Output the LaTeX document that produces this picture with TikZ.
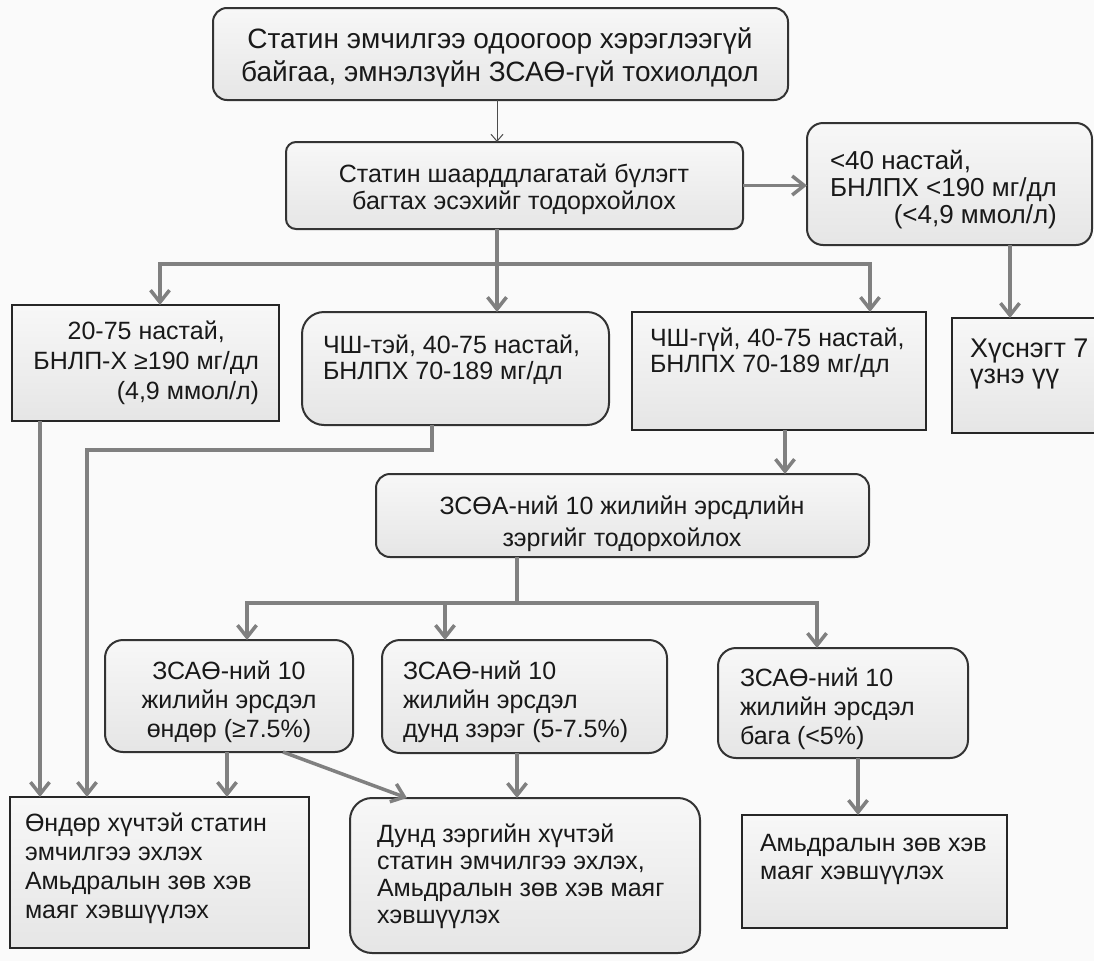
\documentclass[tikz,border=0pt]{standalone}
\usepackage{fontspec}
\setmainfont{Liberation Sans}
\usetikzlibrary{arrows.meta}
\tikzset{
  rbox/.style={draw=black!80, line width=2pt, rounded corners=#1, top color=black!3, bottom color=black!10, inner sep=0pt, outer sep=0pt},
  sbox/.style={draw=black!85, line width=2pt, top color=black!3, bottom color=black!10, inner sep=0pt, outer sep=0pt},
  txt/.style={inner sep=0pt, outer sep=0pt, text=black!90, font=\fontsize{25}{#1}\selectfont},
  conn/.style={draw=black!50, line width=3.5pt},
  arr/.style={conn, -{Straight Barb[length=12pt, width=19pt]}},
  thinarr/.style={draw=black!70, line width=1pt, -{Straight Barb[length=7pt, width=12pt]}},
}
\begin{document}
\begin{tikzpicture}[x=1pt, y=-1pt]
\useasboundingbox (0,0) rectangle (1094,961);
\fill[black!2] (0,0) rectangle (1094,961);

% boxes
\node[rbox=14, minimum width=575pt, minimum height=92pt] (b1) at (500.5,54) {};
\node[rbox=10, minimum width=457pt, minimum height=87pt] (b2) at (514.5,185.5) {};
\node[rbox=16, minimum width=285pt, minimum height=122pt] (b3) at (949.5,184) {};
\node[sbox, minimum width=267pt, minimum height=116pt] (b4) at (145.5,363) {};
\node[rbox=22, minimum width=307pt, minimum height=113pt] (b5) at (455.5,368.5) {};
\node[sbox, minimum width=294pt, minimum height=118pt] (b6) at (779,371) {};
\node[sbox, minimum width=150pt, minimum height=115pt] (b7) at (1027,375.5) {};
\node[rbox=14, minimum width=493pt, minimum height=83pt] (b8) at (622.5,515.5) {};
\node[rbox=18, minimum width=248pt, minimum height=112pt] (b9) at (229,696) {};
\node[rbox=18, minimum width=285pt, minimum height=113pt] (b10) at (524.5,696.5) {};
\node[rbox=18, minimum width=250pt, minimum height=110pt] (b11) at (843,703) {};
\node[sbox, minimum width=299pt, minimum height=151pt] (b12) at (159.5,872.5) {};
\node[rbox=22, minimum width=350pt, minimum height=155pt] (b13) at (525,875.5) {};
\node[sbox, minimum width=265pt, minimum height=113pt] (b14) at (874.5,871.5) {};

% texts
\node[txt=32, anchor=base, font=\fontsize{28}{33}\selectfont] (t1) at (500,48)
  {\begin{tabular}[t]{@{}c@{}}Статин эмчилгээ одоогоор хэрэглээгүй\\байгаа, эмнэлзүйн ЗСАӨ-гүй тохиолдол\end{tabular}};
\node[txt=27, anchor=base] (t2) at (514,182)
  {\begin{tabular}[t]{@{}c@{}}Статин шаарддлагатай бүлэгт\\багтах эсэхийг тодорхойлох\end{tabular}};
\node[txt=27, anchor=base west, font=\fontsize{26}{27}\selectfont] (t3) at (830,169)
  {\begin{tabular}[t]{@{}r@{}}\multicolumn{1}{@{}l@{}}{<40 настай,}\\БНЛПХ <190 мг/дл\\(<4,9 ммол/л)\end{tabular}};
\node[txt=30, anchor=base east] (t4) at (259,339)
  {\begin{tabular}[t]{@{}r@{}}\multicolumn{1}{@{}c@{}}{20-75 настай,}\\БНЛП-Х ≥190 мг/дл\\(4,9 ммол/л)\end{tabular}};
\node[txt=26, anchor=base west] (t5) at (323,353)
  {\begin{tabular}[t]{@{}l@{}}ЧШ-тэй, 40-75 настай,\\БНЛПХ 70-189 мг/дл\end{tabular}};
\node[txt=26, anchor=base west] (t6) at (650,346)
  {\begin{tabular}[t]{@{}l@{}}ЧШ-гүй, 40-75 настай,\\БНЛПХ 70-189 мг/дл\end{tabular}};
\node[txt=26, anchor=base west, font=\fontsize{27}{26}\selectfont] (t7) at (970,357)
  {\begin{tabular}[t]{@{}l@{}}Хүснэгт 7\\үзнэ үү\end{tabular}};
\node[txt=32, anchor=base] (t8) at (622,514)
  {\begin{tabular}[t]{@{}c@{}}ЗСӨА-ний 10 жилийн эрсдлийн\\зэргийг тодорхойлох\end{tabular}};
\node[txt=29, anchor=base] (t9) at (229,679)
  {\begin{tabular}[t]{@{}c@{}}ЗСАӨ-ний 10\\жилийн эрсдэл\\өндөр (≥7.5\%)\end{tabular}};
\node[txt=29, anchor=base west] (t10) at (403,679)
  {\begin{tabular}[t]{@{}l@{}}ЗСАӨ-ний 10\\жилийн эрсдэл\\дунд зэрэг (5-7.5\%)\end{tabular}};
\node[txt=29, anchor=base west] (t11) at (740,686)
  {\begin{tabular}[t]{@{}l@{}}ЗСАӨ-ний 10\\жилийн эрсдэл\\бага (<5\%)\end{tabular}};
\node[txt=29, anchor=base west] (t12) at (25,831)
  {\begin{tabular}[t]{@{}l@{}}Өндөр хүчтэй статин\\эмчилгээ эхлэх\\Амьдралын зөв хэв\\маяг хэвшүүлэх\end{tabular}};
\node[txt=27, anchor=base west] (t13) at (377,842)
  {\begin{tabular}[t]{@{}l@{}}Дунд зэргийн хүчтэй\\статин эмчилгээ эхлэх,\\Амьдралын зөв хэв маяг\\хэвшүүлэх\end{tabular}};
\node[txt=28, anchor=base west] (t14) at (760,851)
  {\begin{tabular}[t]{@{}l@{}}Амьдралын зөв хэв\\маяг хэвшүүлэх\end{tabular}};

% junction / column coordinates
\coordinate (j1) at (497,264);
\coordinate (xL) at (160,0);
\coordinate (xR) at (870,0);
\coordinate (x1010) at (1010,0);
\coordinate (x785) at (785,0);
\coordinate (j2) at (517,603);
\coordinate (x247) at (247,0);
\coordinate (x445) at (445,0);
\coordinate (x817) at (817,0);
\coordinate (x40) at (40,0);
\coordinate (x432) at (432,0);
\coordinate (k1) at (87,450);
\coordinate (x227) at (227,0);
\coordinate (d1) at (283,0);
\coordinate (d2) at (407,0);
\coordinate (x858) at (858,0);

% connectors
\draw[thinarr] (b1.south -| j1) -- (b2.north -| j1);
\draw[arr] (b2.south -| j1) -- (b5.north -| j1);
\draw[arr] (j1) -| (b4.north -| xL);
\draw[arr] (j1) -| (b6.north -| xR);
\draw[arr] (b2.east) -- (b2.east -| b3.west);
\draw[arr] (b3.south -| x1010) -- (b7.north -| x1010);
\draw[arr] (b6.south -| x785) -- (b8.north -| x785);
\draw[conn] (b8.south -| j2) -- (j2);
\draw[arr] (j2) -| (b9.north -| x247);
\draw[arr] (j2) -| (b11.north -| x817);
\draw[arr] (j2 -| x445) -- (b10.north -| x445);
\draw[arr] (b4.south -| x40) -- (b12.north -| x40);
\draw[arr] (b5.south -| x432) |- (k1) -- (b12.north -| k1);
\draw[arr] (b9.south -| x227) -- (b12.north -| x227);
\draw[arr] (b9.south -| d1) -- (b13.north -| d2);
\draw[arr] (b10.south -| j2) -- (b13.north -| j2);
\draw[arr] (b11.south -| x858) -- (b14.north -| x858);
\end{tikzpicture}
\end{document}
